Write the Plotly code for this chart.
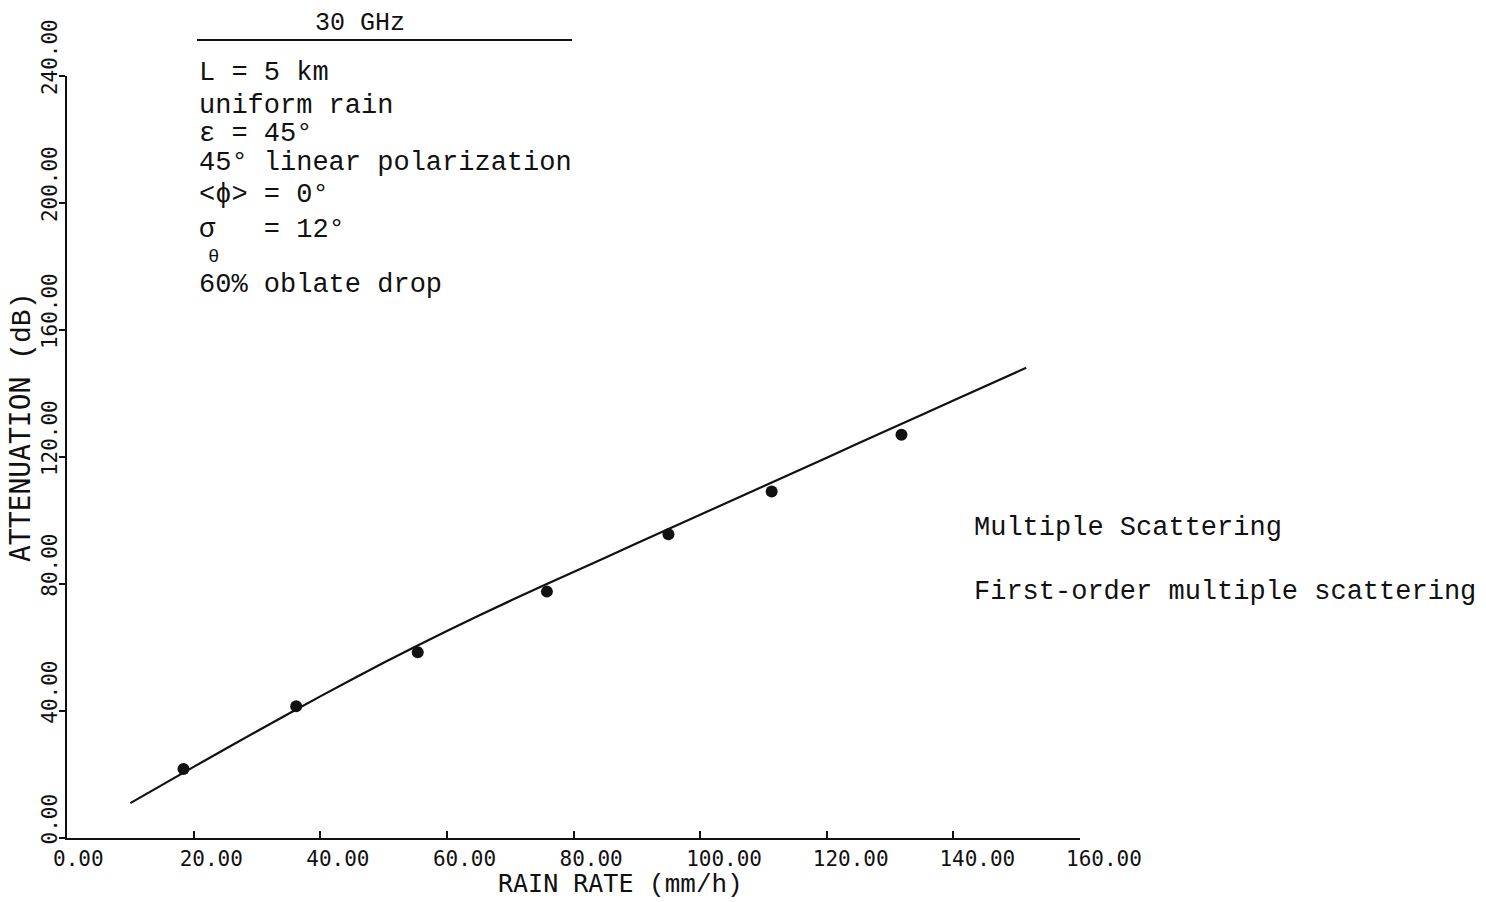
import plotly.graph_objects as go

# ---- data ----
curve_rate = [10, 20, 30, 40, 50, 60, 70, 80, 90, 100, 110, 120, 130, 140, 151.5]
curve_atten = [11.0, 22.4, 33.6, 44.6, 55.2, 65.2, 74.7, 83.8, 92.8, 101.8, 110.8, 119.8, 128.8, 137.8, 148.1]

point_rate = [18.4, 36.2, 55.4, 75.8, 95.0, 111.3, 131.8]
point_atten = [21.7, 41.5, 58.5, 77.6, 95.7, 109.1, 127.0]

x_ticks = [0, 20, 40, 60, 80, 100, 120, 140, 160]
x_tick_text = ["0.00", "20.00", "40.00", "60.00", "80.00", "100.00", "120.00", "140.00", "160.00"]
y_ticks = [0, 40, 80, 120, 160, 200, 240]
y_tick_text = ["0.00", "40.00", "80.00", "120.00", "160.00", "200.00", "240.00"]

info_lines = ["L = 5 km", "uniform rain", "ε = 45°", "45° linear polarization",
              "<ϕ> = 0°", "σ   = 12°", "60% oblate drop"]
legend_lines = ["Multiple Scattering", "First-order multiple scattering"]

# ---- layout geometry (pixels) ----
W, H = 1486, 902
L, R, T, B = 67, 1080, 76, 838


def px(xp):
    return (xp - L) / (R - L)


def py(yp):
    return (B - yp) / (B - T)


MONO = "Liberation Mono, Courier New, monospace"
PLOT = "DejaVu Sans Mono, monospace"
INK = "#111111"

fig = go.Figure()
fig.add_trace(go.Scatter(x=curve_rate, y=curve_atten, mode="lines", line_shape="spline",
                         line=dict(color=INK, width=2.2, smoothing=0.6), showlegend=False))
fig.add_trace(go.Scatter(x=point_rate, y=point_atten, mode="markers",
                         marker=dict(color=INK, size=12), showlegend=False))

fig.update_layout(
    width=W, height=H,
    margin=dict(l=L, r=W - R, t=T, b=H - B, pad=0),
    paper_bgcolor="white", plot_bgcolor="white",
    showlegend=False,
    xaxis=dict(range=[0, 160], tickvals=x_ticks, ticktext=x_tick_text,
               showgrid=False, zeroline=False, showline=True, linecolor=INK, linewidth=2,
               ticks="inside", ticklen=7, tickwidth=2, tickcolor=INK,
               ticklabelposition="outside right", ticklabelshift=-16, ticklabelstandoff=1,
               tickfont=dict(family=PLOT, size=21, color=INK)),
    yaxis=dict(range=[0, 240], tickvals=y_ticks, ticktext=y_tick_text,
               showgrid=False, zeroline=False, showline=True, linecolor=INK, linewidth=2,
               ticks="outside", ticklen=6, tickwidth=2, tickcolor=INK,
               tickangle=-90, ticklabelposition="outside top", ticklabeloverflow="allow",
               ticklabelstandoff=0,
               tickfont=dict(family=PLOT, size=21, color=INK)),
)

ann = []
# axis titles
ann.append(dict(x=px(21), y=py(428), xref="paper", yref="paper", textangle=-90,
                text="<span style='font-family:DejaVu Sans Mono'>ATTENUATION</span> (dB)",
                font=dict(family=MONO, size=28, color=INK), showarrow=False,
                xanchor="center", yanchor="middle"))
ann.append(dict(x=px(620), y=py(884), xref="paper", yref="paper",
                text="<span style='font-family:DejaVu Sans Mono;font-size:25px'>RAIN RATE</span> (mm/h)",
                font=dict(family=MONO, size=26, color=INK), showarrow=False,
                xanchor="center", yanchor="middle"))
# header
ann.append(dict(x=px(313), y=py(24), xref="paper", yref="paper", text="30 GHz",
                font=dict(family=MONO, size=25, color=INK), showarrow=False,
                xanchor="left", yanchor="middle"))
info_y = [71, 104, 132, 161, 193, 228, 283]
for t, yy in zip(info_lines, info_y):
    ann.append(dict(x=px(197), y=py(yy + 2), xref="paper", yref="paper", text=t,
                    font=dict(family=MONO, size=27, color=INK), showarrow=False,
                    xanchor="left", yanchor="middle"))
ann.append(dict(x=px(206), y=py(257), xref="paper", yref="paper", text="θ",
                font=dict(family=MONO, size=19, color=INK), showarrow=False,
                xanchor="left", yanchor="middle"))
for t, yy in zip(legend_lines, [526, 590]):
    ann.append(dict(x=px(972), y=py(yy + 2), xref="paper", yref="paper", text=t,
                    font=dict(family=MONO, size=27, color=INK), showarrow=False,
                    xanchor="left", yanchor="middle"))
fig.update_layout(annotations=ann)

fig.add_shape(type="line", xref="paper", yref="paper",
              x0=px(197), x1=px(572), y0=py(40), y1=py(40),
              line=dict(color=INK, width=2))

fig.write_html("out.html")
